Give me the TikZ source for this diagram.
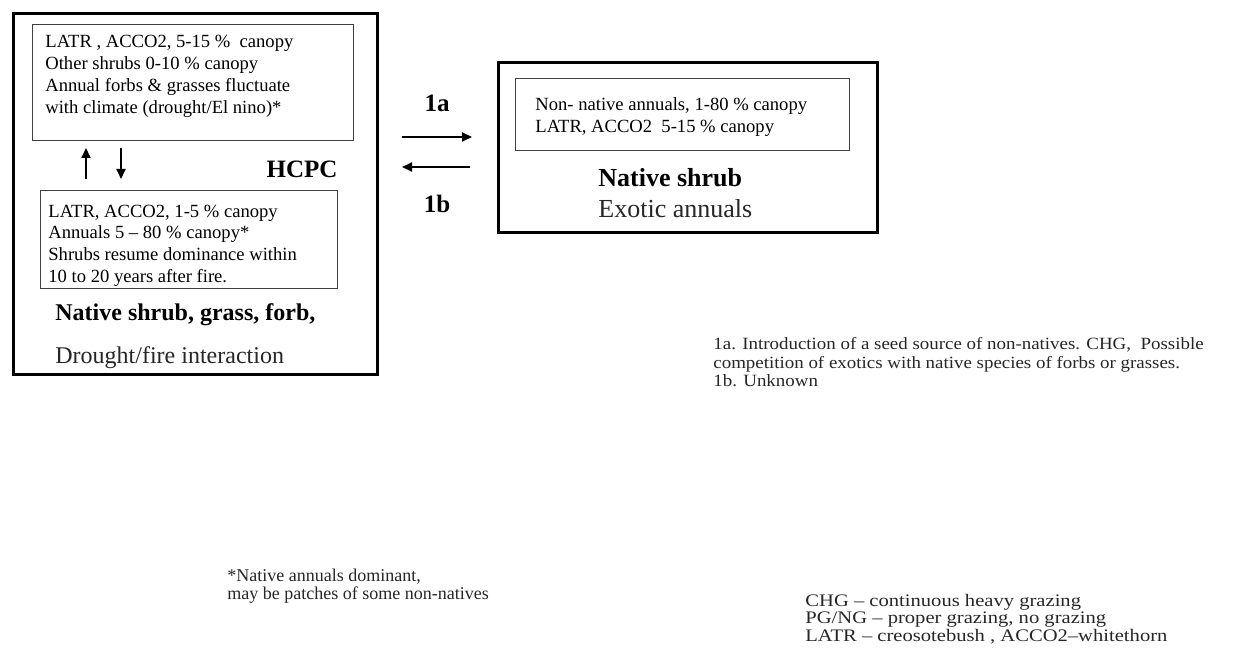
\documentclass[tikz,border=0pt]{standalone}
\usepackage{fontspec}
\setmainfont{Liberation Serif}
\newfontfamily\widenote[FakeStretch=1.1,Ligatures=TeX]{Liberation Serif}
\newfontfamily\widelegend[FakeStretch=1.17,Ligatures=TeX]{Liberation Serif}
\usetikzlibrary{arrows.meta}
\begin{document}
\begin{tikzpicture}[x=0.5pt,y=-0.5pt,
  outerbox/.style={draw, line width=1.6pt, inner sep=0, anchor=north west},
  innerbox/.style={draw=black!75, line width=0.7pt, inner sep=0, anchor=north west},
  small/.style={font=\fontsize{9.3}{11}\selectfont, inner sep=0, anchor=base west},
  note/.style={font=\widenote\fontsize{8.6}{11}\selectfont, inner sep=0, anchor=base west, text=black!85},
  foot/.style={font=\fontsize{9}{11}\selectfont, inner sep=0, anchor=base west, text=black!85},
  legend/.style={font=\widelegend\fontsize{8.8}{11}\selectfont, inner sep=0, anchor=base west, text=black!85},
  bigb/.style={font=\fontsize{12}{14}\selectfont\bfseries, inner sep=0, anchor=base west},
  bigr/.style={font=\fontsize{12}{14}\selectfont, inner sep=0, anchor=base west, text=black!85},
  conn/.style={line width=0.9pt, -{Triangle[length=5pt,width=4.5pt]}}
]
\useasboundingbox (0,0) rectangle (1247,663);

% left state
\node[outerbox, minimum width=182pt, minimum height=180.5pt] (hcpc) at (12,12) {};
\node[innerbox, minimum width=160.5pt, minimum height=58pt] (b1) at (32,24) {};
\node[innerbox, minimum width=148.5pt, minimum height=49pt] (b2) at (40,190) {};

\node[small] (b1a) at (45,48) {LATR , ACCO2, 5-15 \%\ \ canopy};
\node[small] (b1b) at (45,70) {Other shrubs 0-10 \% canopy};
\node[small] (b1c) at (45,92) {Annual forbs \& grasses fluctuate};
\node[small] (b1d) at (45,114) {with climate (drought/El nino)*};

\node[small] (b2a) at (48,218) {LATR, ACCO2, 1-5 \% canopy};
\node[small] (b2b) at (48,239) {Annuals 5 -- 80 \% canopy*};
\node[small] (b2c) at (48,261) {Shrubs resume dominance within};
\node[small] (b2d) at (48,283) {10 to 20 years after fire.};

\node[font=\fontsize{12.5}{14}\selectfont\bfseries, inner sep=0, anchor=base] (hcpclbl) at (302,178) {HCPC};
\node[bigb] (ns1) at (55,321) {Native shrub, grass, forb,};
\node[bigr] (dfi) at (55,363) {Drought/fire interaction};

\coordinate (upS) at (86,179);
\coordinate (upE) at (86,148);
\coordinate (dnS) at (121,148);
\coordinate (dnE) at (121,179);
\draw[conn] (upS) -- (upE);
\draw[conn] (dnS) -- (dnE);

% right state
\node[outerbox, minimum width=189.5pt, minimum height=85pt] (nse) at (497,61) {};
\node[innerbox, minimum width=167pt, minimum height=36pt] (b3) at (515,78) {};
\node[small] (b3a) at (535,111) {Non- native annuals, 1-80 \% canopy};
\node[small] (b3b) at (535,133) {LATR, ACCO2\ \ 5-15 \% canopy};
\node[font=\fontsize{13}{15}\selectfont\bfseries, inner sep=0, anchor=base west] (ns2) at (598,187) {Native shrub};
\node[font=\fontsize{13}{15}\selectfont, inner sep=0, anchor=base west, text=black!85] (exa) at (598,218) {Exotic annuals};

% transitions
\coordinate (aS) at (402,137);
\coordinate (aE) at (472,137);
\coordinate (bS) at (470,167);
\coordinate (bE) at (402,167);
\draw[conn] (aS) -- (aE);
\draw[conn] (bS) -- (bE);
\node[font=\fontsize{12.5}{14}\selectfont\bfseries, inner sep=0, anchor=base] (l1a) at (437,112) {1a};
\node[font=\fontsize{12.5}{14}\selectfont\bfseries, inner sep=0, anchor=base] (l1b) at (437,213) {1b};

% notes
\node[note] (n1) at (713,349) {1a. Introduction of a seed source of non-natives. CHG,\ \ Possible};
\node[note] (n2) at (713,368) {competition of exotics with native species of forbs or grasses.};
\node[note] (n3) at (713,386) {1b. Unknown};

\node[foot] (f1) at (227,581) {*Native annuals dominant,};
\node[foot] (f2) at (227,599) {may be patches of some non-natives};

\node[legend] (g1) at (805,606) {CHG -- continuous heavy grazing};
\node[legend] (g2) at (805,623) {PG/NG -- proper grazing, no grazing};
\node[legend] (g3) at (805,641) {LATR -- creosotebush , ACCO2--whitethorn};
\end{tikzpicture}
\end{document}
